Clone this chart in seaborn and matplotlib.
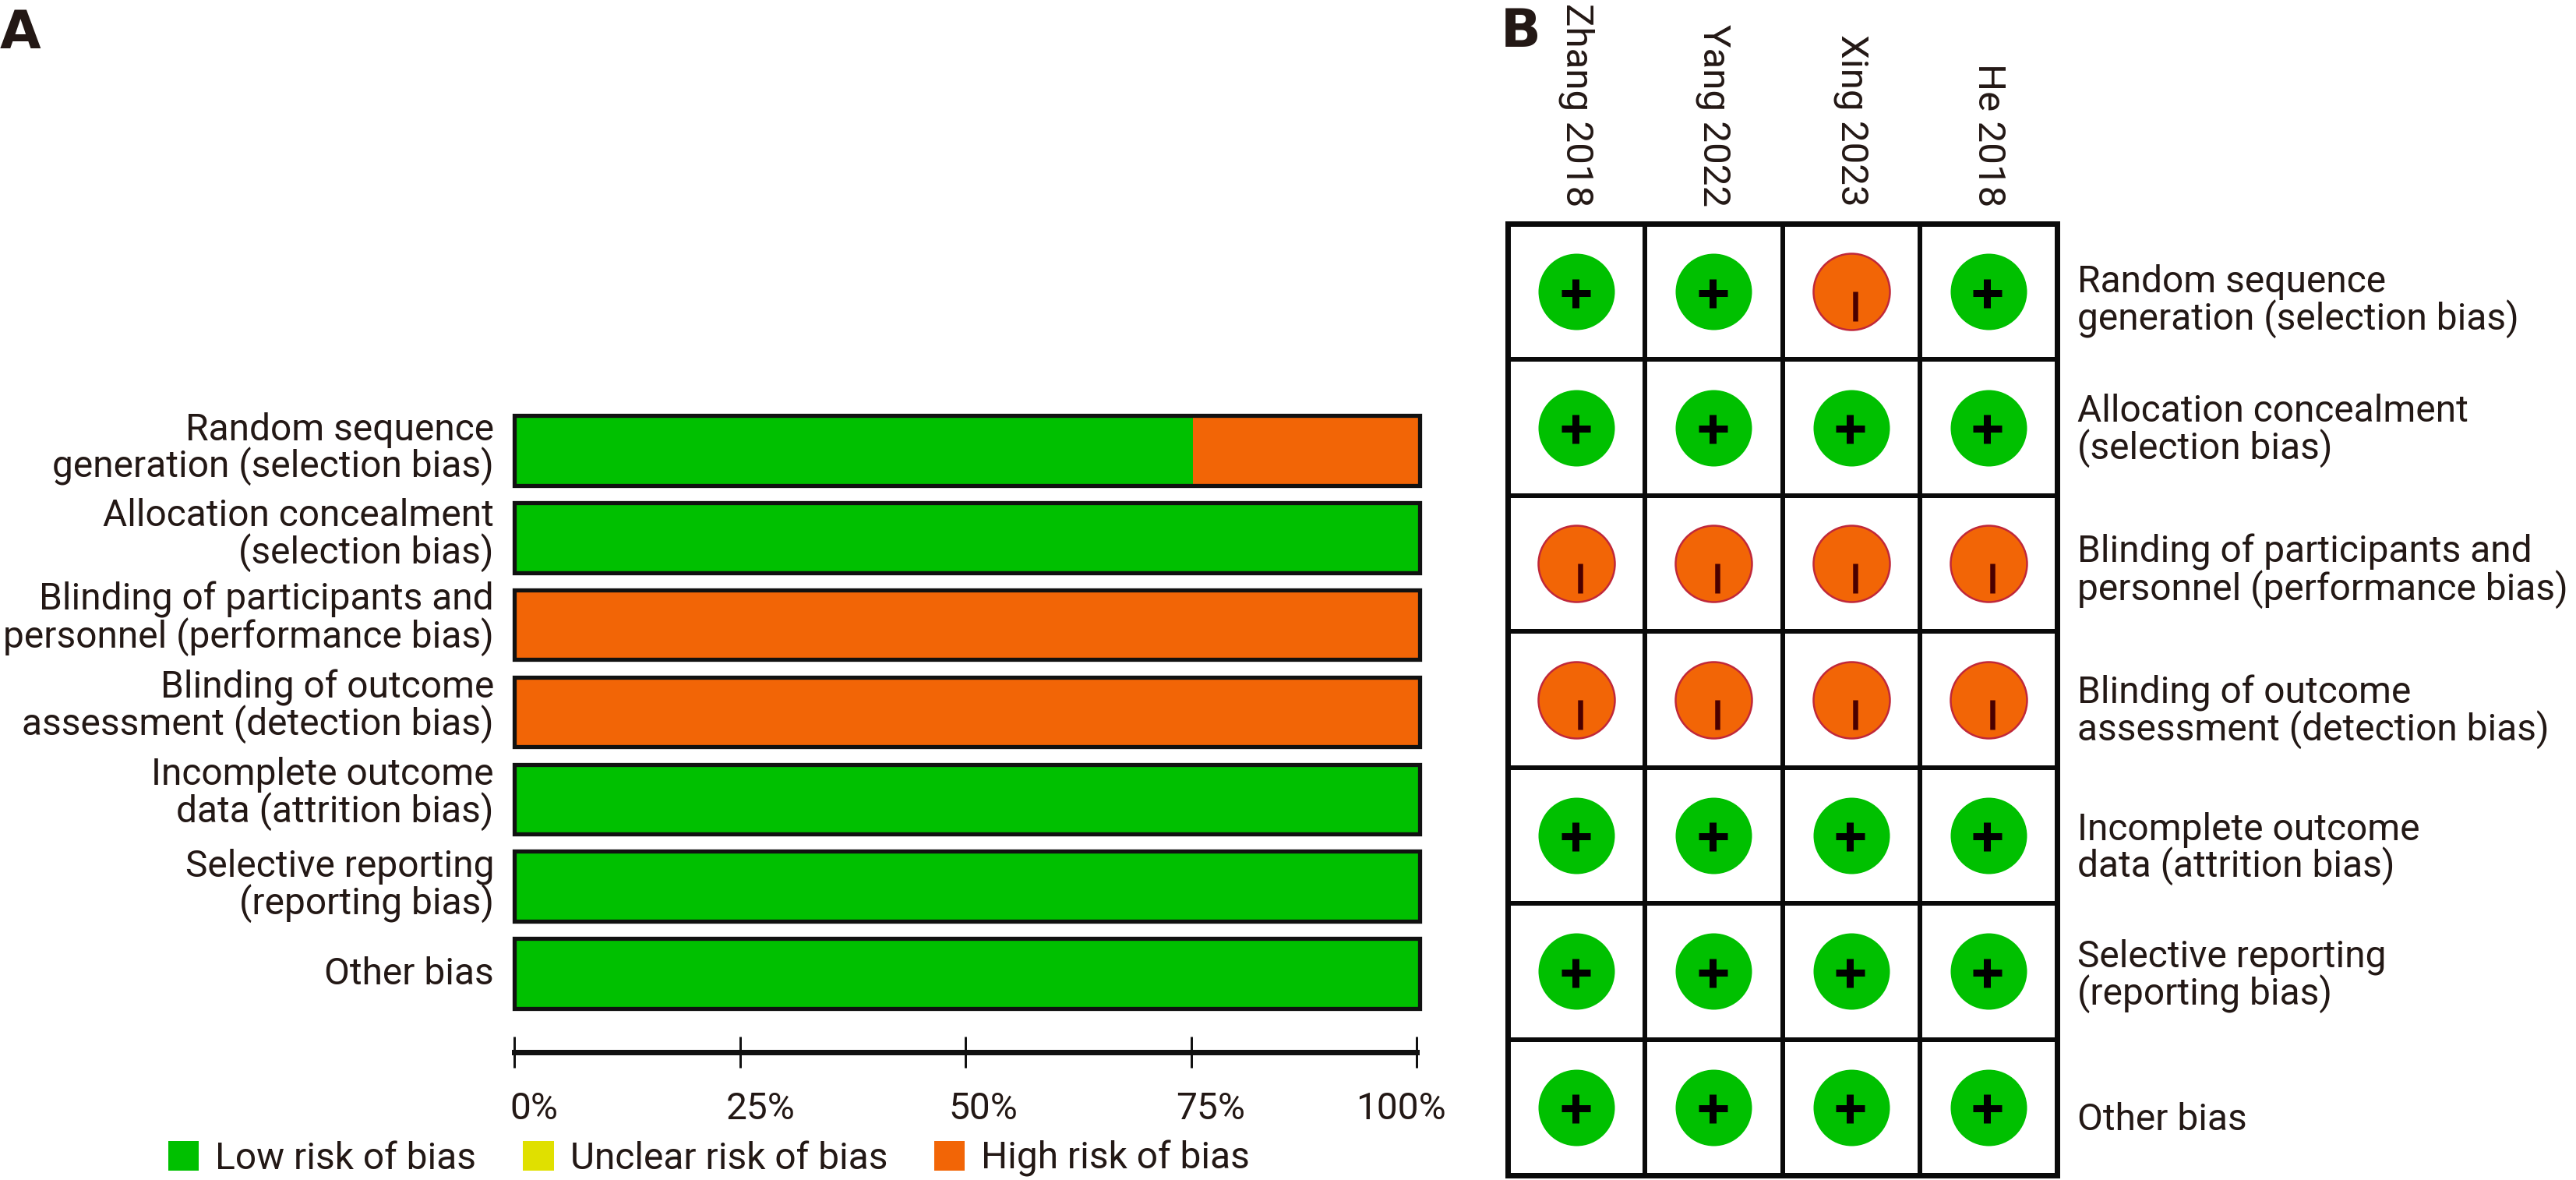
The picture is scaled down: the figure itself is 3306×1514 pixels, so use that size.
import numpy as np
import pandas as pd
import matplotlib
matplotlib.use("Agg")
import matplotlib.pyplot as plt
import seaborn as sns
from matplotlib.patches import Patch
from matplotlib.transforms import ScaledTranslation

domains = ["Random sequence\ngeneration (selection bias)", "Allocation concealment\n(selection bias)",
           "Blinding of participants and\npersonnel (performance bias)", "Blinding of outcome\nassessment (detection bias)",
           "Incomplete outcome\ndata (attrition bias)", "Selective reporting\n(reporting bias)", "Other bias"]
low_pct = [75, 100, 0, 0, 100, 100, 100]
unclear_pct = [0, 0, 0, 0, 0, 0, 0]
high_pct = [25, 0, 100, 100, 0, 0, 0]
pct_ticks = [0, 25, 50, 75, 100]
pct_labels = ["0%", "25%", "50%", "75%", "100%"]
studies = ["Zhang 2018", "Yang 2022", "Xing 2023", "He 2018"]
ratings = [["+", "+", "-", "+"],
           ["+", "+", "+", "+"],
           ["-", "-", "-", "-"],
           ["-", "-", "-", "-"],
           ["+", "+", "+", "+"],
           ["+", "+", "+", "+"],
           ["+", "+", "+", "+"]]
legend_labels = ["Low risk of bias", "Unclear risk of bias", "High risk of bias"]

GREEN, YELLOW, ORANGE = "#00C000", "#E0E000", "#F26506"
TXT = "#231815"
W, H = 3306, 1514
DPI = 100
FS = 34.5
FAMILY = "Roboto"

sns.set_theme(style="white")
plt.rcParams["font.family"] = [FAMILY, "DejaVu Sans"]
px = 72 / DPI

fig = plt.figure(figsize=(W / DPI, H / DPI), dpi=DPI, facecolor="white")


def px_axes(x0, y0, x1, y1):
    return fig.add_axes([x0 / W, 1 - y1 / H, (x1 - x0) / W, (y1 - y0) / H])


# ---- Panel A: stacked bars
axA = px_axes(660, 522, 1822, 1305)
df = pd.DataFrame({"domain": domains, "low": low_pct, "unclear": unclear_pct, "high": high_pct})
df["low_unclear"] = df["low"] + df["unclear"]
df["total"] = df["low_unclear"] + df["high"]
for col, colour in [("total", ORANGE), ("low_unclear", YELLOW), ("low", GREEN)]:
    sns.barplot(data=df, x=col, y="domain", orient="h", color=colour, saturation=1, width=0.8,
                edgecolor="none", linewidth=0, ax=axA, errorbar=None)
sns.barplot(data=df, x="total", y="domain", orient="h", fill=False, color="#111111", width=0.8,
            linewidth=3.8, ax=axA, errorbar=None)
axA.set_xlim(0, 100)
axA.set_ylim(6.5, -0.5)
axA.set_xlabel("")
axA.set_ylabel("")
axA.set_xticks([])
axA.set_yticks([])
axA.patch.set_visible(False)
for s in axA.spines.values():
    s.set_visible(False)
for p in axA.patches:
    p.set_clip_on(False)
A_label_dy = [-2, -3, -8, -7, -7, -1, 1]
for i, lab in enumerate(domains):
    axA.annotate(lab, xy=(0, i), xycoords=("axes fraction", "data"), xytext=(-26, -A_label_dy[i]),
                 textcoords="offset pixels", ha="right", va="center", fontsize=FS, color=TXT,
                 linespacing=0.97, multialignment="right")

# ---- Panel A: percent axis
axT = px_axes(660, 1349, 1818, 1350)
axT.set_xlim(0, 100)
axT.set_yticks([])
axT.set_xticks(pct_ticks)
axT.set_xticklabels(pct_labels, fontsize=FS, color=TXT)
axT.tick_params(axis="x", direction="inout", length=40 * px, width=3 * px, color="#111111",
                pad=30 * px, bottom=True)
axT.patch.set_visible(False)
for k, s in axT.spines.items():
    s.set_visible(k == "bottom")
axT.spines["bottom"].set_linewidth(7 * px)
axT.spines["bottom"].set_color("#111111")
tick_dx = [25, 27, 23, 25, -20]
for lab, dx in zip(axT.get_xticklabels(), tick_dx):
    lab.set_transform(lab.get_transform() + ScaledTranslation(dx / DPI, 0, fig.dpi_scale_trans))

# ---- Panel A: legend
handles = [Patch(facecolor=c, edgecolor="none", label=l)
           for c, l in zip([GREEN, YELLOW, ORANGE], legend_labels)]
fig.legend(handles=handles, loc="lower left", bbox_to_anchor=(216 / W, 1 - 1510 / H), ncols=3,
           frameon=False, fontsize=FS, labelcolor=TXT, borderpad=0, borderaxespad=0,
           handlelength=0.82, handleheight=0.82, handletextpad=0.44, columnspacing=1.25)

# ---- Panel B: grid via heatmap, marks via scatterplot
axB = px_axes(1935, 287, 2640, 1508)
grid = pd.DataFrame(np.zeros((len(domains), len(studies))), columns=studies)
sns.heatmap(grid, cmap=["white"], cbar=False, linewidths=6 * px, linecolor="#0a0a0a",
            xticklabels=studies, yticklabels=False, ax=axB)
axB.collections[0].set_clip_on(False)
for s in axB.spines.values():
    s.set_visible(True)
    s.set_linewidth(7 * px)
    s.set_color("#0a0a0a")
axB.xaxis.tick_top()
axB.tick_params(axis="x", length=0, pad=22 * px, top=False)
for lab in axB.get_xticklabels():
    lab.set_rotation(-90)
    lab.set_ha("center")
    lab.set_va("bottom")
    lab.set_fontsize(35.5)
    lab.set_color(TXT)

long = pd.DataFrame([{"study": j + 0.5, "row": i + 0.5, "rating": ratings[i][j]}
                     for i in range(len(domains)) for j in range(len(studies))])
plus = long[long["rating"] == "+"]
minus = long[long["rating"] == "-"]
minus_dx, minus_dy = 5 / 176, 19 / 174.4
dia = 98 * px
sns.scatterplot(data=plus, x="study", y="row", s=dia ** 2, color=GREEN, linewidth=0, ax=axB,
                legend=False, zorder=5, clip_on=False)
sns.scatterplot(data=minus, x="study", y="row", s=dia ** 2, color=ORANGE, edgecolor="#C0283A",
                linewidth=2.5 * px, ax=axB, legend=False, zorder=5, clip_on=False)
axB.scatter(plus["study"] - 1.5 / 176, plus["row"] + 1.5 / 174.4, s=(37 * px) ** 2, marker="+", color="black",
            linewidths=9 * px, zorder=6)
axB.scatter(minus["study"] + minus_dx, minus["row"] + minus_dy, s=(38 * px) ** 2, marker="|",
            color="#4A0000", linewidths=6.5 * px, zorder=6)
axB.set_xlabel("")
axB.set_ylabel("")
axB.set_xlim(0, len(studies))
axB.set_ylim(len(domains), 0)

B_label_dy = [12, 4, 10, 16, 17, 6, 16]
for i, lab in enumerate(domains):
    axB.annotate(lab, xy=(1, i + 0.5), xycoords=("axes fraction", "data"), xytext=(26, -B_label_dy[i]),
                 textcoords="offset pixels", ha="left", va="center", fontsize=FS, color=TXT,
                 linespacing=0.97, multialignment="left")

# ---- Panel letters
fig.text(0 / W, 1 - 62 / H, "A", fontsize=49, fontweight="bold", color=TXT, family="DejaVu Sans",
         ha="left", va="baseline")
fig.text(1926 / W, 1 - 60 / H, "B", fontsize=49, fontweight="bold", color=TXT, family="DejaVu Sans",
         ha="left", va="baseline")

fig.savefig("out.png", dpi=DPI, facecolor="white")
